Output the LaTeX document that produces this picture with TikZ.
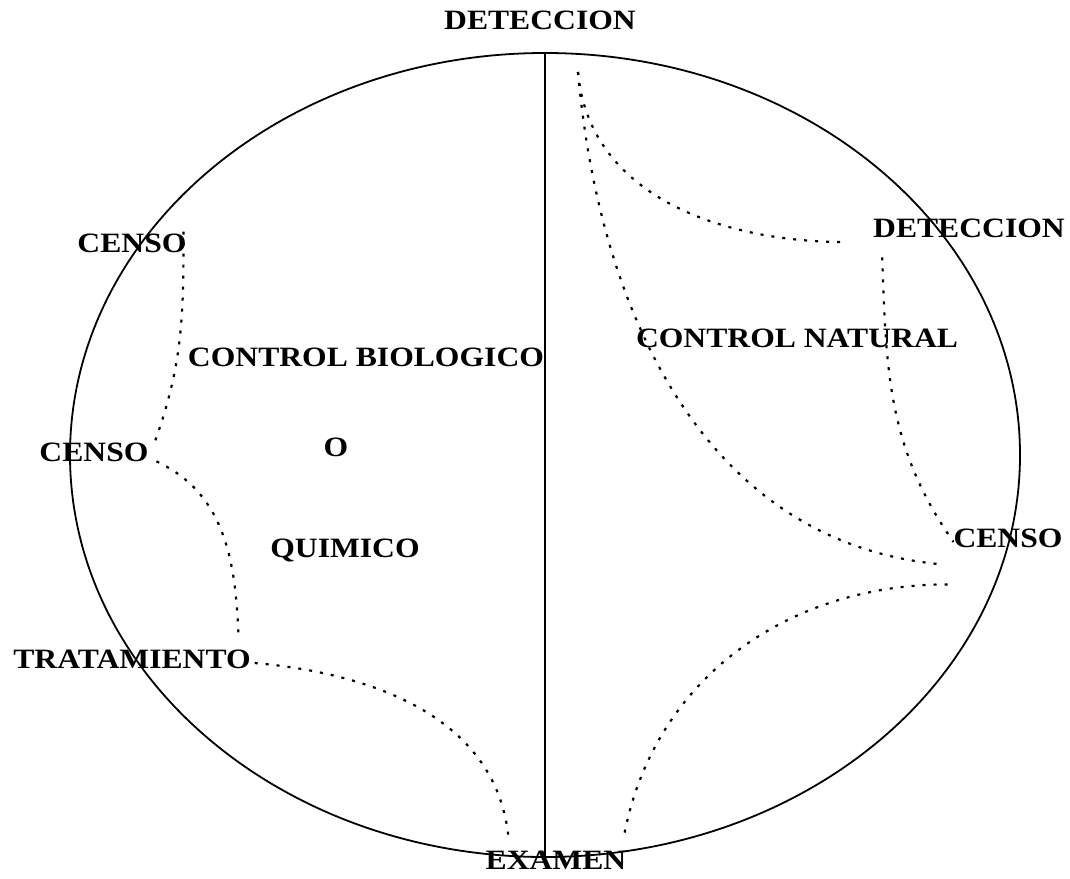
\documentclass[tikz,border=0pt]{standalone}
\usepackage{fontspec}
\usepackage{tikz}
\usetikzlibrary{shapes.geometric}
\newfontfamily\diagfont[FakeStretch=1.13]{Liberation Serif}

\begin{document}
\begin{tikzpicture}[
    x=1pt, y=1pt,
    lbl/.style={font=\diagfont\bfseries\fontsize{28}{33}\selectfont, inner sep=0pt, outer sep=0pt},
    field/.style={ellipse, draw, line width=1.8pt, minimum width=950pt, minimum height=804pt,
                  inner sep=0pt, outer sep=0pt},
    dotline/.style={line width=2.2pt, dash pattern=on 3pt off 8pt}
]
\useasboundingbox (0,0) rectangle (1070,-878);

\node[field] (oval) at (545,-455) {};
\draw[line width=2.6pt] (oval.north) -- (oval.south);

\node[lbl] (dettop) at (540,-20)  {DETECCION};
\node[lbl] (censoa) at (132,-243) {CENSO};
\node[lbl] (biol)   at (366,-357) {CONTROL BIOLOGICO};
\node[lbl] (censob) at (94,-452)  {CENSO};
\node[lbl] (o)      at (336,-447) {O};
\node[lbl] (quim)   at (345,-550) {QUIMICO};
\node[lbl] (trat)   at (132,-659) {TRATAMIENTO};
\node[lbl] (exam)   at (556,-860) {EXAMEN};
\node[lbl] (detr)   at (969,-228) {DETECCION};
\node[lbl] (natur)  at (797,-338) {CONTROL NATURAL};
\node[lbl] (censor) at (1008,-538) {CENSO};

\coordinate (fork) at (578,-72);

% left half
\draw[dotline] ([shift={(-3,2)}]censoa.north east) to[out=-90, in=70] ([xshift=6pt]censob.north east);
\draw[dotline] ([xshift=8pt]censob.south east) to[out=-25, in=92] ([shift={(-12,10)}]trat.north east);
\draw[dotline] ([shift={(4,-4)}]trat.east) to[out=-5, in=95] ([shift={(23,11)}]exam.north west);

% right half
\draw[dotline] (fork) to[out=-85, in=180] ([shift={(-28,-14)}]detr.west);
\draw[dotline] (fork) to[out=-85, in=175] ([shift={(-11,-17)}]censor.south west);
\draw[dotline] ([shift={(9,-20)}]detr.south west) to[out=-88, in=125] ([yshift=-4pt]censor.west);
\draw[dotline] ([shift={(-6,-37)}]censor.south west) to[out=180, in=80] ([shift={(-3,11)}]exam.north east);
\end{tikzpicture}
\end{document}
